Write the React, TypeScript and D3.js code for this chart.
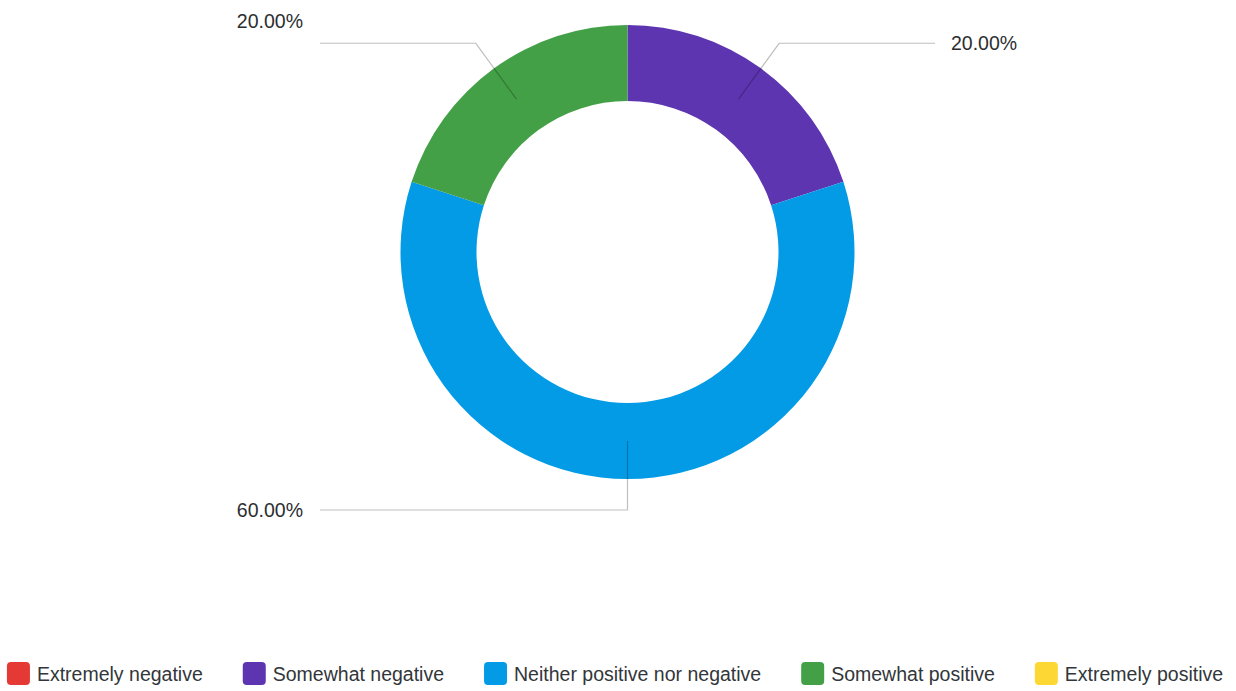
import React, { useEffect, useRef } from "react";
import * as d3 from "d3";

const categories = [
  "Extremely negative",
  "Somewhat negative",
  "Neither positive nor negative",
  "Somewhat positive",
  "Extremely positive",
];
const percentages = [0, 20, 60, 20, 0];
const colors = ["#e53935", "#5e35b1", "#039be5", "#43a047", "#fdd835"];
const labelTexts = ["0.00%", "20.00%", "60.00%", "20.00%", "0.00%"];

const W = 1236;
const H = 691;
const CX = 627.5;
const CY = 252;
const R_OUT = 227;
const R_IN = 151;
const FONT = "'Liberation Sans', Arial, sans-serif";
const FS = 19.5;

export default function App() {
  const legendRef = useRef<SVGGElement>(null);

  const pie = d3
    .pie<number>()
    .sort(null)
    .value((d) => d)
    .startAngle(0)
    .endAngle(2 * Math.PI);
  const arcs = pie(percentages);
  const arcGen = d3.arc<d3.PieArcDatum<number>>().innerRadius(R_IN).outerRadius(R_OUT);

  const rMid = (R_IN + R_OUT) / 2;
  const rElbow = 258;
  const lineHalf = 307.5;

  useEffect(() => {
    const g = d3.select(legendRef.current);
    if (!g.node()) return;
    const items = g.selectAll<SVGGElement, unknown>("g.item").nodes();
    const sq = 23;
    const gapText = 7;
    const gapItem = 40;
    const widths = items.map((n) => {
      const t = n.querySelector("text") as SVGTextElement;
      return sq + gapText + t.getComputedTextLength();
    });
    const total = d3.sum(widths) + gapItem * (items.length - 1);
    let x = (W - total) / 2 - 3;
    items.forEach((n, i) => {
      n.setAttribute("transform", `translate(${x},0)`);
      x += widths[i] + gapItem;
    });
  }, []);

  return (
    <div style={{ position: "absolute", left: 0, top: 0, width: W, height: H }}>
      <svg width={W} height={H} style={{ display: "block", fontFamily: FONT }}>
        <rect width={W} height={H} fill="#ffffff" />
        <g transform={`translate(${CX},${CY})`}>
          {arcs.map((a, i) =>
            a.value > 0 ? <path key={i} d={arcGen(a) || ""} fill={colors[i]} /> : null
          )}
          {arcs.map((a, i) => {
            if (a.value <= 0) return null;
            const mid = (a.startAngle + a.endAngle) / 2;
            const sx = Math.sin(mid);
            const sy = -Math.cos(mid);
            const p1 = [rMid * sx, rMid * sy];
            const p2 = [rElbow * sx, rElbow * sy];
            const right = sx > 1e-6;
            const endX = right ? lineHalf : -lineHalf;
            const p3 = [endX, p2[1]];
            const labelDy = !right && sy < 0 ? -22 : 0;
            return (
              <g key={"l" + i}>
                <polyline
                  points={[p1, p2, p3].map((p) => p.join(",")).join(" ")}
                  fill="none"
                  stroke="rgba(0,0,0,0.25)"
                  strokeWidth={1.2}
                />
                <text
                  x={right ? endX + 16 : endX - 17}
                  y={p3[1] + labelDy}
                  dominantBaseline="central"
                  textAnchor={right ? "start" : "end"}
                  fontSize={FS}
                  fill="#2b2e31"
                >
                  {labelTexts[i]}
                </text>
              </g>
            );
          })}
        </g>
        <g ref={legendRef} transform={`translate(0,673.5)`}>
          {categories.map((c, i) => (
            <g className="item" key={c}>
              <rect x={0} y={-11.5} width={23} height={23} rx={4} fill={colors[i]} />
              <text x={30} y={0} dominantBaseline="central" fontSize={FS} fill="#32363a">
                {c}
              </text>
            </g>
          ))}
        </g>
      </svg>
    </div>
  );
}
